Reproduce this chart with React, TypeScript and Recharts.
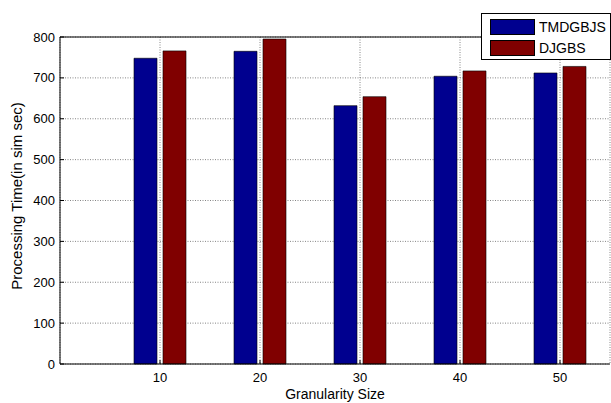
import {
  BarChart, Bar, XAxis, YAxis, CartesianGrid, Legend, ReferenceLine, Label
} from "recharts";

const sizes = ["10", "20", "30", "40", "50"];
const seriesNames = ["TMDGBJS", "DJGBS"];
const tmdgbjs = [748, 765, 632, 704, 712];
const djgbs = [766, 795, 654, 717, 728];
const yTicks = [0, 100, 200, 300, 400, 500, 600, 700, 800];

const data = sizes.map((s, i) => ({ size: s, TMDGBJS: tmdgbjs[i], DJGBS: djgbs[i] }));

const font = "'Liberation Sans', Arial, sans-serif";

function renderLegend(props: any) {
  const payload = [...(props.payload || [])].sort(
    (a: any, b: any) => seriesNames.indexOf(a.value) - seriesNames.indexOf(b.value)
  );
  return (
    <div
      style={{
        width: 130, height: 47, border: "1px solid #000", background: "#fff",
        boxSizing: "border-box", paddingTop: 2, paddingLeft: 8, fontFamily: font
      }}
    >
      {payload.map((entry: any) => (
        <div key={entry.value} style={{ display: "flex", alignItems: "center", height: 21 }}>
          <span
            style={{
              display: "inline-block", width: 45, height: 16, background: entry.color,
              border: "1px solid #000", boxSizing: "border-box"
            }}
          />
          <span style={{ marginLeft: 4, fontSize: 14, color: "#000" }}>{entry.value}</span>
        </div>
      ))}
    </div>
  );
}

export default function App() {
  return (
    <div style={{ position: "absolute", left: 0, top: 0, background: "#fff" }}>
      <BarChart
        width={611}
        height={403}
        data={data}
        margin={{ top: 37, right: 1, bottom: 0, left: 0 }}
        barSize={23}
        barGap={6}
        style={{ fontFamily: font }}
      >
        <CartesianGrid stroke="#666" strokeDasharray="1 1.5" strokeWidth={0.8} />
        <XAxis
          dataKey="size"
          padding={{ left: 50, right: 0 }}
          axisLine={{ stroke: "#000" }}
          tickLine={{ stroke: "#000" }}
          tickSize={-4}
          tickMargin={13}
          tick={{ fill: "#000", fontSize: 13 }}
          height={39}
          label={
            <Label
              content={() => (
                <text x={335} y={399} textAnchor="middle" fontSize={14} fill="#000" fontFamily={font}>
                  Granularity Size
                </text>
              )}
            />
          }
        />
        <XAxis
          xAxisId="top"
          orientation="top"
          dataKey="size"
          padding={{ left: 50, right: 0 }}
          height={0}
          axisLine={{ stroke: "#000" }}
          tickLine={{ stroke: "#000" }}
          tickSize={-4}
          tick={false}
        />
        <YAxis
          domain={[0, 800]}
          ticks={yTicks}
          width={60}
          axisLine={{ stroke: "#000" }}
          tickLine={{ stroke: "#000" }}
          tickSize={-4}
          tickMargin={9}
          tick={{ fill: "#000", fontSize: 13 }}
          label={
            <Label
              content={() => (
                <text
                  x={16}
                  y={196}
                  transform="rotate(-90 16 196)"
                  textAnchor="middle"
                  dominantBaseline="central"
                  fontSize={15}
                  fill="#000"
                  fontFamily={font}
                >
                  Processing Time(in sim sec)
                </text>
              )}
            />
          }
        />
        <YAxis
          yAxisId="right"
          orientation="right"
          domain={[0, 800]}
          ticks={yTicks}
          width={0}
          axisLine={{ stroke: "#000" }}
          tickLine={{ stroke: "#000" }}
          tickSize={-4}
          tick={false}
        />
        <ReferenceLine y={800} stroke="#000" />
        <Legend
          layout="vertical"
          align="center"
          verticalAlign="middle"
          content={renderLegend}
          wrapperStyle={{ left: 481, top: 13 }}
        />
        <Bar dataKey="TMDGBJS" fill="#00008F" stroke="#000" strokeWidth={0.6} isAnimationActive={false} />
        <Bar dataKey="DJGBS" fill="#800000" stroke="#000" strokeWidth={0.6} isAnimationActive={false} />
      </BarChart>
    </div>
  );
}
